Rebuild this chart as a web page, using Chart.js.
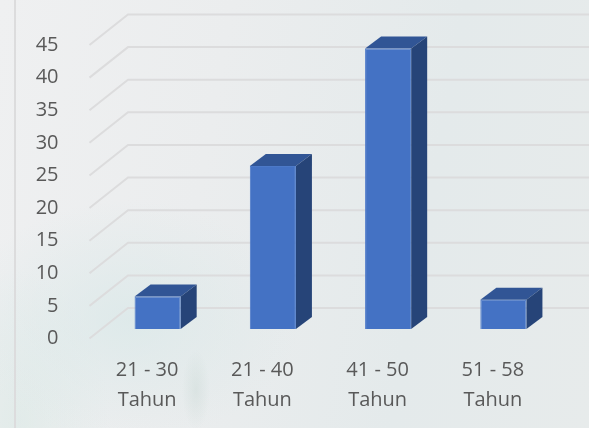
<!DOCTYPE html>
<html>
<head>
<meta charset="utf-8">
<style>
    html, body { margin: 0; padding: 0; }
    body {
        width: 589px; height: 428px; overflow: hidden; position: relative;
        background:
            radial-gradient(ellipse 14px 40px at 196px 390px, rgba(190,208,203,.3), transparent),
            radial-gradient(ellipse 170px 120px at 130px 320px, rgba(216,232,232,.7), transparent),
            radial-gradient(ellipse 90px 150px at 20px 420px, rgba(216,232,228,.55), transparent),
            linear-gradient(100deg, #eff0f1 0%, #ebedee 35%, #e4eaeb 70%, #e7ebeb 100%);
    }
    #rule { position: absolute; left: 14px; top: 0; width: 2px; height: 428px; background: #dcdcdd; }
    canvas { position: absolute; left: 0; top: 0; }
</style>
</head>
<body>
<div id="rule"></div>
<canvas id="usiaChart" width="589" height="428"></canvas>
<script src="https://cdn.jsdelivr.net/npm/chart.js@4"></script>
<script>
const categories = [['21 - 30', 'Tahun'], ['21 - 40', 'Tahun'], ['41 - 50', 'Tahun'], ['51 - 58', 'Tahun']];
const values = [5, 25, 43, 4.5];
const yMax = 45;
const yStep = 5;

// fake 3D: bars sit on a plane behind the axis edge, gridlines on the back wall
const plane = { dx: 10.5, dy: -9.5 };
const wall = { dx: 38.5, dy: -30.5 };
const depth = { dx: 16, dy: -12 };

const fake3d = {
    id: 'fake3d',
    beforeDatasetsDraw(chart) {
        const { ctx, chartArea, scales } = chart;
        ctx.save();
        ctx.strokeStyle = '#dcdcdd';
        ctx.lineWidth = 2;
        scales.y.ticks.forEach(t => {
            const y = scales.y.getPixelForValue(t.value);
            ctx.beginPath();
            ctx.moveTo(chartArea.left, y);
            ctx.lineTo(chartArea.left + wall.dx, y + wall.dy);
            ctx.lineTo(chart.width, y + wall.dy);
            ctx.stroke();
        });
        ctx.restore();

        ctx.save();
        ctx.translate(plane.dx, plane.dy);
        chart.getDatasetMeta(0).data.forEach(bar => {
            const l = bar.x - bar.width / 2;
            const r = bar.x + bar.width / 2;
            ctx.fillStyle = '#315595';
            ctx.beginPath();
            ctx.moveTo(l, bar.y);
            ctx.lineTo(l + depth.dx, bar.y + depth.dy);
            ctx.lineTo(r + depth.dx, bar.y + depth.dy);
            ctx.lineTo(r, bar.y);
            ctx.fill();
            ctx.fillStyle = '#264478';
            ctx.beginPath();
            ctx.moveTo(r, bar.y);
            ctx.lineTo(r + depth.dx, bar.y + depth.dy);
            ctx.lineTo(r + depth.dx, bar.base + depth.dy);
            ctx.lineTo(r, bar.base);
            ctx.fill();
        });
    },
    afterDatasetsDraw(chart) {
        chart.ctx.restore();
    }
};

new Chart(document.getElementById('usiaChart').getContext('2d'), {
    type: 'bar',
    plugins: [fake3d],
    data: {
        labels: categories,
        datasets: [{
            data: values,
            backgroundColor: '#4472c4',
            borderColor: '#4c79c8',
            borderWidth: 1,
            barPercentage: 0.4,
            categoryPercentage: 1
        }]
    },
    options: {
        responsive: false,
        animation: false,
        layout: { padding: { top: 45, right: 38.5 } },
        plugins: { legend: { display: false }, tooltip: { enabled: false } },
        scales: {
            x: {
                grid: { display: false },
                border: { display: false },
                afterFit: s => { s.height = 89.5; },
                ticks: {
                    color: '#595959',
                    padding: 9,
                    maxRotation: 0,
                    autoSkip: false,
                    font: { family: '"Open Sans"', size: 20, lineHeight: 1.5 }
                }
            },
            y: {
                min: 0,
                max: yMax,
                grid: { display: false },
                border: { display: false },
                afterFit: s => { s.width = 89.5; },
                ticks: {
                    stepSize: yStep,
                    color: '#595959',
                    padding: 23,
                    font: { family: '"Open Sans"', size: 20 }
                }
            }
        }
    }
});
</script>
</body>
</html>
